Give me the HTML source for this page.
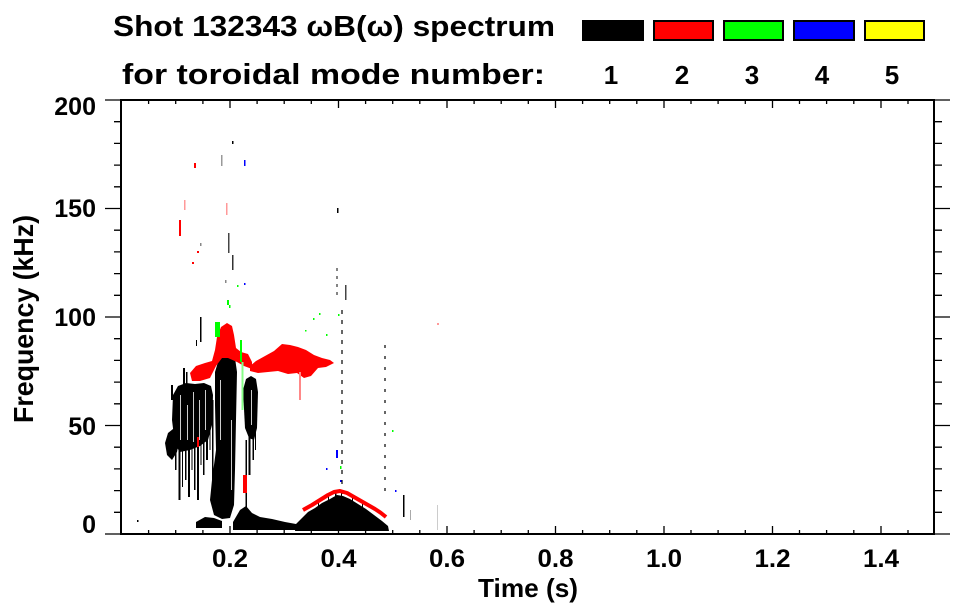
<!DOCTYPE html>
<html>
<head>
<meta charset="utf-8">
<style>
html,body{margin:0;padding:0;background:#fff;}
svg{display:block;}
text{font-family:"Liberation Sans",Arial,sans-serif;font-weight:bold;fill:#000;}
</style>
</head>
<body>
<svg width="963" height="615" viewBox="0 0 963 615" xmlns="http://www.w3.org/2000/svg">
<rect x="0" y="0" width="963" height="615" fill="#fff"/>

<!-- Title -->
<text x="113" y="36" font-size="29" textLength="442" lengthAdjust="spacingAndGlyphs">Shot 132343 ωB(ω) spectrum</text>
<text x="122" y="84" font-size="29" textLength="423" lengthAdjust="spacingAndGlyphs">for toroidal mode number:</text>

<!-- Legend boxes -->
<rect x="582" y="20" width="62" height="21" fill="#000"/>
<rect x="654" y="21" width="59" height="19" fill="#f00" stroke="#000" stroke-width="2"/>
<rect x="724" y="21" width="59" height="19" fill="#0f0" stroke="#000" stroke-width="2"/>
<rect x="794" y="21" width="60" height="19" fill="#00f" stroke="#000" stroke-width="2"/>
<rect x="865" y="21" width="59" height="19" fill="#ff0" stroke="#000" stroke-width="2"/>
<g font-size="26" text-anchor="middle">
<text x="611" y="84">1</text>
<text x="682" y="84">2</text>
<text x="752" y="84">3</text>
<text x="822" y="84">4</text>
<text x="892" y="84">5</text>
</g>

<!-- ===== DATA ===== -->
<g fill="#000">
<!-- left blob -->
<polygon points="165,443 168,433 173,429 178,430 179,442 177,452 172,460 167,455"/>
<!-- main left mass -->
<polygon points="173,395 178,386 186,383 195,384 204,383 211,386 213,395 212,425 208,440 200,446 190,450 180,452 175,445 172,420"/>
<rect x="175" y="440" width="1.5" height="30"/>
<rect x="178.5" y="430" width="2" height="70"/>
<rect x="182" y="445" width="1" height="42"/>
<rect x="185" y="440" width="1.5" height="40"/>
<rect x="188" y="430" width="2" height="67"/>
<rect x="191.5" y="440" width="1" height="30"/>
<rect x="194" y="430" width="1.5" height="60"/>
<rect x="197" y="440" width="2" height="60"/>
<rect x="200.5" y="440" width="1" height="25"/>
<rect x="203" y="430" width="1.5" height="45"/>
<rect x="206" y="425" width="2" height="35"/>
<rect x="209.5" y="420" width="1" height="30"/>
<rect x="212" y="400" width="1.5" height="90"/>
<rect x="183" y="368" width="2" height="17"/>
<rect x="186" y="372" width="1.5" height="12"/>
<rect x="171" y="385" width="2" height="15"/>
<rect x="200" y="317" width="1.5" height="25"/>
<rect x="196" y="340" width="1" height="6"/>
<!-- central column -->
<polygon points="215,372 218,362 223,356 230,354 235,358 237,372 236,420 235,470 234,505 230,518 222,519 214,515 210,500 212,480 216,450 215,405"/>
<!-- right column -->
<polygon points="243,390 246,379 251,376 256,379 258,392 257,428 254,440 249,438 245,428"/>
<rect x="248.5" y="430" width="2" height="45"/>
<rect x="252.5" y="435" width="1.5" height="25"/>
<rect x="245.5" y="440" width="1.5" height="80"/>
<rect x="255" y="430" width="1" height="20"/>
<!-- bottom band -->
<polygon points="196,522 205,517 214,518 222,521 222,528 196,528"/>
<polygon points="233,522 240,510 246,506 252,513 260,517 272,519 285,522 296,524 300,526 300,530 233,530"/>
<!-- lower hump -->
<polygon points="295,531 296,524 302,518 308,512 315,508 322,503 330,499 337,495 343,496 350,499 358,504 366,509 374,515 382,521 388,526 389,531"/>
<rect x="318" y="499" width="1" height="8"/>
<rect x="328" y="493" width="1" height="8"/>
<rect x="335" y="490" width="1.5" height="8"/>
<rect x="341" y="491" width="1" height="8"/>
<rect x="352" y="495" width="1" height="8"/>
<rect x="362" y="501" width="1" height="8"/>
<!-- specks -->
<rect x="232" y="141" width="1.5" height="3"/>
<rect x="228" y="233" width="1.5" height="20" fill="#444"/>
<rect x="232" y="255" width="1.5" height="15" fill="#333"/>
<rect x="337" y="208" width="1.5" height="5"/>
<rect x="345" y="285" width="1.5" height="15" fill="#444"/>
<rect x="403" y="495" width="1.5" height="22"/>
<rect x="410" y="510" width="1" height="10" fill="#aaa"/>
<rect x="437" y="505" width="1" height="25" fill="#ccc"/>
<rect x="137" y="520" width="1.5" height="2"/>
<rect x="221" y="155" width="1.5" height="11" fill="#999"/>
<rect x="200" y="243" width="1.5" height="3" fill="#888"/>
<rect x="225" y="280" width="1.5" height="3" fill="#888"/>
</g>
<!-- thin white gaps for streaky texture -->
<g fill="#fff">
<rect x="180" y="395" width="0.8" height="45"/>
<rect x="187" y="405" width="0.8" height="35"/>
<rect x="193" y="392" width="0.8" height="50"/>
<rect x="199" y="400" width="0.8" height="40"/>
<rect x="205" y="390" width="0.8" height="40"/>
<rect x="220" y="380" width="0.8" height="60"/>
<rect x="231" y="420" width="0.8" height="70"/>
<rect x="251" y="390" width="0.8" height="35"/>
</g>
<!-- dashed vertical streaks -->
<line x1="342" y1="310" x2="342" y2="500" stroke="#000" stroke-width="1.2" stroke-dasharray="4,6"/>
<line x1="385" y1="345" x2="385" y2="495" stroke="#000" stroke-width="1.2" stroke-dasharray="3,8"/>
<line x1="337" y1="268" x2="337" y2="300" stroke="#333" stroke-width="1.2" stroke-dasharray="3,5"/>

<!-- red -->
<g fill="#f00">
<polygon points="250,366 256,361 265,356 274,351 282,344 290,345 298,347 306,350 314,355 322,358 330,360 334,363 326,367 318,368 311,376 304,378 297,373 288,374 278,371 268,372 258,373 250,371"/>
<polygon points="190,373 196,366 205,363 212,361 215,350 217,337 221,327 227,323 232,326 234,335 236,348 241,352 248,354 252,362 252,369 244,366 237,362 228,358 222,358 216,366 210,378 200,381 192,381"/>
<rect x="243" y="475" width="4" height="18"/>
<rect x="197" y="437" width="2" height="10"/>
<rect x="179" y="220" width="2" height="16"/>
<rect x="194" y="163" width="2" height="5"/>
<rect x="192" y="262" width="2" height="2"/>
<rect x="197" y="251" width="2" height="2"/>
<rect x="184" y="200" width="1.5" height="10" fill="#f99"/>
<rect x="226" y="203" width="1.5" height="12" fill="#f99"/>
<rect x="299" y="372" width="2" height="28" fill="#f88"/>
<rect x="437" y="323" width="2" height="2" fill="#f99"/>
</g>
<polyline fill="none" stroke="#f00" stroke-width="4" stroke-linejoin="round" points="303,510 312,505 320,500 328,495 334,492 340,491 347,493 354,497 361,501 368,505 375,509 381,513 386,517"/>

<!-- green -->
<g fill="#0f0">
<rect x="215" y="322" width="5" height="15"/>
<rect x="240" y="340" width="2" height="22"/>
<rect x="241.5" y="362" width="2" height="48" fill="#8f8"/>
<rect x="227" y="300" width="2" height="5"/>
<rect x="229" y="305" width="1.5" height="3"/>
<rect x="313" y="318" width="1.5" height="2"/>
<rect x="319" y="313" width="1.5" height="2"/>
<rect x="338" y="314" width="1.5" height="2"/>
<rect x="305" y="330" width="1.5" height="1.5"/>
<rect x="326" y="334" width="1.5" height="2"/>
<rect x="340" y="466" width="1.5" height="3"/>
<rect x="237" y="285" width="1.5" height="2"/>
<rect x="392" y="430" width="1.5" height="2"/>
</g>
<!-- blue -->
<g fill="#00f">
<rect x="336" y="450" width="2" height="8"/>
<rect x="326" y="468" width="1.5" height="2"/>
<rect x="244" y="160" width="1.5" height="6"/>
<rect x="340" y="480" width="1.5" height="2"/>
<rect x="395" y="490" width="1.5" height="2"/>
<rect x="244" y="283" width="1.5" height="2"/>
</g>

<!-- ===== AXES ===== -->
<rect x="121" y="100" width="813" height="434" fill="none" stroke="#000" stroke-width="2"/>
<path stroke="#000" stroke-width="1.3" fill="none" d="
M105 534H121 M105 425.5H121 M105 317H121 M105 208.5H121 M105 100H121
M114 512.3H121 M114 490.6H121 M114 468.9H121 M114 447.2H121
M114 403.8H121 M114 382.1H121 M114 360.4H121 M114 338.7H121
M114 295.3H121 M114 273.6H121 M114 251.9H121 M114 230.2H121
M114 186.8H121 M114 165.1H121 M114 143.4H121 M114 121.7H121
M934 534H950 M934 425.5H950 M934 317H950 M934 208.5H950 M934 100H950
M934 512.3H942 M934 490.6H942 M934 468.9H942 M934 447.2H942
M934 403.8H942 M934 382.1H942 M934 360.4H942 M934 338.7H942
M934 295.3H942 M934 273.6H942 M934 251.9H942 M934 230.2H942
M934 186.8H942 M934 165.1H942 M934 143.4H942 M934 121.7H942
M230 534V526 M338.5 534V526 M447 534V526 M555.5 534V526 M664 534V526 M772.5 534V526 M881 534V526
M148.6 534V530 M175.7 534V530 M202.9 534V530 M257.1 534V530 M284.2 534V530 M311.3 534V530
M365.6 534V530 M392.7 534V530 M419.8 534V530 M474.1 534V530 M501.2 534V530 M528.3 534V530
M582.6 534V530 M609.7 534V530 M636.8 534V530 M691 534V530 M718.1 534V530 M745.3 534V530
M799.5 534V530 M826.6 534V530 M853.8 534V530 M908 534V530
M230 100V108 M338.5 100V108 M447 100V108 M555.5 100V108 M664 100V108 M772.5 100V108 M881 100V108
M148.6 100V104 M175.7 100V104 M202.9 100V104 M257.1 100V104 M284.2 100V104 M311.3 100V104
M365.6 100V104 M392.7 100V104 M419.8 100V104 M474.1 100V104 M501.2 100V104 M528.3 100V104
M582.6 100V104 M609.7 100V104 M636.8 100V104 M691 100V104 M718.1 100V104 M745.3 100V104
M799.5 100V104 M826.6 100V104 M853.8 100V104 M908 100V104
"/>

<!-- x tick labels -->
<g font-size="25" text-anchor="middle">
<text x="230" y="567" textLength="36" lengthAdjust="spacingAndGlyphs">0.2</text>
<text x="338.5" y="567" textLength="36" lengthAdjust="spacingAndGlyphs">0.4</text>
<text x="447" y="567" textLength="36" lengthAdjust="spacingAndGlyphs">0.6</text>
<text x="555.5" y="567" textLength="36" lengthAdjust="spacingAndGlyphs">0.8</text>
<text x="664" y="567" textLength="36" lengthAdjust="spacingAndGlyphs">1.0</text>
<text x="772.5" y="567" textLength="36" lengthAdjust="spacingAndGlyphs">1.2</text>
<text x="881" y="567" textLength="36" lengthAdjust="spacingAndGlyphs">1.4</text>
</g>
<!-- y tick labels -->
<g font-size="25" text-anchor="end">
<text x="96" y="115">200</text>
<text x="96" y="217">150</text>
<text x="96" y="326">100</text>
<text x="96" y="435">50</text>
<text x="96" y="533">0</text>
</g>

<!-- axis titles -->
<text x="478" y="597" font-size="26" textLength="100" lengthAdjust="spacingAndGlyphs">Time (s)</text>
<text transform="translate(33,319) rotate(-90)" font-size="28" text-anchor="middle" textLength="208" lengthAdjust="spacingAndGlyphs">Frequency (kHz)</text>
</svg>
</body>
</html>
